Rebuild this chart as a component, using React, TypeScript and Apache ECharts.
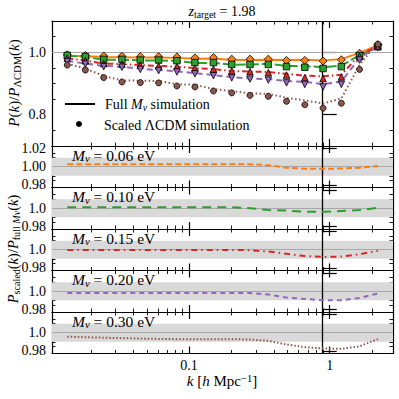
import React, { useEffect, useRef } from 'react';
import * as echarts from 'echarts';

const K = [0.0136, 0.0183, 0.0247, 0.0333, 0.0450, 0.0607, 0.0819, 0.110, 0.149, 0.201, 0.271, 0.366, 0.493, 0.665, 0.897, 1.21, 1.63, 2.20];
const K_NL = 0.9;

const MNU_LABELS = ['0.06', '0.10', '0.15', '0.20', '0.30'];
const COLORS = ['#ff7f0e', '#2ca02c', '#d62728', '#9467bd', '#8c564b'];

const FULL_006 = [0.989, 0.987, 0.985, 0.984, 0.983, 0.983, 0.982, 0.979, 0.980, 0.975, 0.975, 0.976, 0.975, 0.976, 0.974, 0.978, 0.998, 1.023];
const FULL_010 = [0.989, 0.985, 0.976, 0.976, 0.974, 0.974, 0.972, 0.966, 0.966, 0.960, 0.961, 0.963, 0.956, 0.956, 0.952, 0.957, 0.991, 1.017];
const FULL_015 = [0.981, 0.973, 0.964, 0.962, 0.959, 0.956, 0.954, 0.949, 0.946, 0.940, 0.938, 0.937, 0.931, 0.925, 0.923, 0.928, 0.991, 1.019];
const FULL_020 = [0.972, 0.964, 0.956, 0.954, 0.947, 0.943, 0.939, 0.933, 0.927, 0.920, 0.916, 0.914, 0.908, 0.905, 0.898, 0.906, 0.982, 1.018];
const FULL_030 = [0.963, 0.948, 0.924, 0.910, 0.909, 0.908, 0.898, 0.896, 0.882, 0.876, 0.868, 0.867, 0.854, 0.846, 0.836, 0.852, 0.959, 1.033];

const SCALED_006 = [0.992, 0.990, 0.988, 0.987, 0.986, 0.986, 0.985, 0.982, 0.983, 0.978, 0.978, 0.978, 0.974, 0.974, 0.972, 0.976, 0.997, 1.024];
const SCALED_010 = [0.990, 0.986, 0.977, 0.977, 0.975, 0.975, 0.973, 0.967, 0.967, 0.961, 0.961, 0.961, 0.954, 0.952, 0.948, 0.954, 0.989, 1.018];
const SCALED_015 = [0.981, 0.973, 0.964, 0.962, 0.959, 0.956, 0.954, 0.949, 0.946, 0.940, 0.938, 0.935, 0.927, 0.919, 0.916, 0.921, 0.986, 1.018];
const SCALED_020 = [0.970, 0.962, 0.954, 0.952, 0.945, 0.941, 0.937, 0.931, 0.925, 0.918, 0.914, 0.911, 0.902, 0.897, 0.889, 0.897, 0.975, 1.015];
const SCALED_030 = [0.959, 0.943, 0.919, 0.905, 0.903, 0.902, 0.892, 0.889, 0.876, 0.870, 0.862, 0.859, 0.843, 0.832, 0.821, 0.837, 0.945, 1.026];

const RATIO_006 = [1.0027, 1.0027, 1.0027, 1.0027, 1.0027, 1.0027, 1.0027, 1.0027, 1.0027, 1.0027, 1.0027, 1.0018, 0.9990, 0.9978, 0.9978, 0.9980, 0.9990, 1.0008];
const RATIO_010 = [1.0010, 1.0010, 1.0010, 1.0010, 1.0010, 1.0010, 1.0010, 1.0010, 1.0010, 1.0010, 1.0000, 0.9980, 0.9974, 0.9960, 0.9960, 0.9970, 0.9980, 1.0005];
const RATIO_015 = [0.9998, 0.9998, 0.9998, 0.9998, 0.9998, 0.9998, 0.9998, 0.9998, 0.9998, 0.9998, 0.9995, 0.9980, 0.9955, 0.9930, 0.9920, 0.9925, 0.9950, 0.9990];
const RATIO_020 = [0.9980, 0.9980, 0.9980, 0.9980, 0.9980, 0.9980, 0.9980, 0.9980, 0.9980, 0.9980, 0.9980, 0.9965, 0.9930, 0.9915, 0.9900, 0.9900, 0.9926, 0.9975];
const RATIO_030 = [0.9956, 0.9951, 0.9945, 0.9940, 0.9936, 0.9932, 0.9929, 0.9927, 0.9929, 0.9928, 0.9925, 0.9910, 0.9870, 0.9840, 0.9825, 0.9822, 0.9850, 0.9930];

const FULL = [FULL_006, FULL_010, FULL_015, FULL_020, FULL_030];
const SCALED = [SCALED_006, SCALED_010, SCALED_015, SCALED_020, SCALED_030];
const RATIO = [RATIO_006, RATIO_010, RATIO_015, RATIO_020, RATIO_030];

const X_MAJOR = [0.1, 1];
const X_MINOR = [0.02, 0.03, 0.04, 0.05, 0.06, 0.07, 0.08, 0.09, 0.2, 0.3, 0.4, 0.5, 0.6, 0.7, 0.8, 0.9, 2];
const TOP_Y_MAJOR = [0.8, 1.0];
const TOP_Y_MINOR = [0.7, 0.75, 0.85, 0.9, 0.95, 1.05, 1.1];
const LOW_Y_MAJOR = [0.98, 1.0, 1.02];
const LOW_Y_MINOR = [0.985, 0.99, 0.995, 1.005, 1.01, 1.015];
const TOP_Y_LABELS = [0.8, 1.0];
const FIRST_LOW_Y_LABELS = [0.98, 1.0, 1.02];
const LOW_Y_LABELS = [0.98, 1.0];

const FONT = '"Liberation Serif", "DejaVu Serif", serif';
const X_MIN = -1.975;
const X_MAX = 0.45;

const TOP_LINE_DASH: any[] = ['solid', [10, 3], [6, 3, 1.5, 3], [6, 4], [1.5, 2.5]];
const LOW_LINE_DASH: any[] = [[6, 3], [9, 6], [6, 4, 1.5, 4], [5, 4], [1.5, 2]];
const SYMBOLS = ['diamond', 'rect', 'triangle', 'triangle', 'circle'];
const SYMBOL_ROT = [0, 0, 0, 180, 0];
const SYMBOL_SIZE = [8, 6.5, 6.5, 6.5, 6];

const GRID_LEFT = 52;
const GRID_RIGHT = 6;
const TOP_GRID = { top: 21, height: 125 };
const LOW_H = 41.5;

const lg = (v: number) => Math.log10(v);

function rich(size: number) {
  const lh = size + 2;
  const s = size * 0.7;
  return {
    i: { fontStyle: 'italic', fontSize: size, fontFamily: FONT, lineHeight: lh, fill: '#000', color: '#000' },
    r: { fontSize: size, fontFamily: FONT, lineHeight: lh, fill: '#000', color: '#000' },
    sub: { fontSize: s, fontFamily: FONT, lineHeight: s, verticalAlign: 'bottom', fill: '#000', color: '#000' },
    subi: { fontSize: s, fontStyle: 'italic', fontFamily: FONT, lineHeight: s, verticalAlign: 'bottom', fill: '#000', color: '#000' },
    sup: { fontSize: s, fontFamily: FONT, lineHeight: s, verticalAlign: 'top', fill: '#000', color: '#000' },
  };
}

function xAxes(g: number, last: boolean) {
  const base: any = {
    type: 'value', gridIndex: g, min: X_MIN, max: X_MAX,
    splitLine: { show: false },
    axisLine: { show: true, onZero: false, lineStyle: { color: '#000', width: 1.2 } },
  };
  const minorTick = { show: true, inside: true, length: 3.5, customValues: X_MINOR.map(lg), lineStyle: { color: '#000', width: 0.9 } };
  const majorTick = { show: true, inside: true, length: 7, customValues: X_MAJOR.map(lg), lineStyle: { color: '#000', width: 1.2 } };
  return [
    { ...base, position: 'bottom', axisTick: minorTick, axisLabel: { show: false } },
    { ...base, position: 'top', axisTick: minorTick, axisLabel: { show: false } },
    {
      ...base, position: 'bottom', axisLine: { show: false }, axisTick: majorTick,
      axisLabel: {
        show: last, customValues: X_MAJOR.map(lg), margin: 5, fontSize: 14, fontFamily: FONT, color: '#000',
        formatter: (v: number) => String(parseFloat(Math.pow(10, v).toPrecision(3))),
      },
    },
    { ...base, position: 'top', axisLine: { show: false }, axisTick: majorTick, axisLabel: { show: false } },
  ];
}

function yAxes(g: number, min: number, max: number, major: number[], minor: number[], labels: number[], digits: number[]) {
  const base: any = {
    type: 'value', gridIndex: g, min, max,
    splitLine: { show: false },
    axisLine: { show: true, onZero: false, lineStyle: { color: '#000', width: 1.2 } },
  };
  const minorTick = { show: true, inside: true, length: 3.5, customValues: minor, lineStyle: { color: '#000', width: 0.9 } };
  const majorTick = { show: true, inside: true, length: 7, customValues: major, lineStyle: { color: '#000', width: 1.2 } };
  return [
    { ...base, position: 'left', axisTick: minorTick, axisLabel: { show: false } },
    { ...base, position: 'right', axisTick: minorTick, axisLabel: { show: false } },
    {
      ...base, position: 'left', axisLine: { show: false }, axisTick: majorTick,
      axisLabel: {
        show: true, customValues: labels, margin: 6, fontSize: 14, fontFamily: FONT, color: '#000',
        formatter: (v: number) => {
          const idx = labels.findIndex((l) => Math.abs(l - v) < 1e-9);
          return v.toFixed(digits[idx < 0 ? 0 : idx]);
        },
      },
    },
    { ...base, position: 'right', axisLine: { show: false }, axisTick: majorTick, axisLabel: { show: false } },
  ];
}

export default function App() {
  const ref = useRef<HTMLDivElement>(null);
  useEffect(() => {
    if (!ref.current) return;
    const chart = echarts.init(ref.current, null, { renderer: 'svg' });

    const grids: any[] = [{ left: GRID_LEFT, right: GRID_RIGHT, top: TOP_GRID.top, height: TOP_GRID.height }];
    for (let m = 0; m < 5; m++) {
      grids.push({ left: GRID_LEFT, right: GRID_RIGHT, top: TOP_GRID.top + TOP_GRID.height + m * LOW_H, height: LOW_H });
    }

    const xAxis: any[] = [];
    const yAxis: any[] = [];
    for (let g = 0; g < 6; g++) {
      xAxis.push(...xAxes(g, g === 5));
      if (g === 0) {
        yAxis.push(...yAxes(0, 0.7, 1.1, TOP_Y_MAJOR, TOP_Y_MINOR, TOP_Y_LABELS, [1, 1]));
      } else if (g === 1) {
        yAxis.push(...yAxes(1, 0.977, 1.023, LOW_Y_MAJOR, LOW_Y_MINOR, FIRST_LOW_Y_LABELS, [2, 2, 2]));
      } else {
        yAxis.push(...yAxes(g, 0.977, 1.023, LOW_Y_MAJOR, LOW_Y_MINOR, LOW_Y_LABELS, [2, 1]));
      }
    }

    const series: any[] = [];
    const refLines = (g: number, withBand: boolean) => ({
      type: 'line', xAxisIndex: 4 * g, yAxisIndex: 4 * g,
      data: [[lg(K[0]), 1]], symbol: 'none', lineStyle: { opacity: 0 }, silent: true, z: 1,
      markArea: withBand ? {
        silent: true, itemStyle: { color: '#d9d9d9' },
        data: [[{ yAxis: 0.99 }, { yAxis: 1.01 }]],
      } : undefined,
      markLine: {
        silent: true, symbol: 'none', label: { show: false }, z: 1,
        data: [
          { yAxis: 1, lineStyle: { color: '#a8a8a8', width: 1, type: 'solid' } },
          { xAxis: lg(K_NL), lineStyle: { color: '#000', width: 1.3, type: 'solid' } },
        ],
      },
    });

    series.push(refLines(0, false));
    for (let m = 0; m < 5; m++) {
      series.push({
        type: 'line', xAxisIndex: 0, yAxisIndex: 0, z: 3,
        data: K.map((k, i) => [lg(k), FULL[m][i]]), symbol: 'none',
        lineStyle: { color: COLORS[m], width: 2, type: TOP_LINE_DASH[m] },
      });
    }
    for (let m = 0; m < 5; m++) {
      series.push({
        type: 'scatter', xAxisIndex: 0, yAxisIndex: 0, z: 4,
        data: K.map((k, i) => [lg(k), SCALED[m][i]]),
        symbol: SYMBOLS[m], symbolRotate: SYMBOL_ROT[m], symbolSize: SYMBOL_SIZE[m],
        itemStyle: { color: COLORS[m], borderColor: '#000', borderWidth: 0.8, opacity: 1 },
      });
    }
    for (let m = 0; m < 5; m++) {
      const g = m + 1;
      series.push(refLines(g, true));
      series.push({
        type: 'line', xAxisIndex: 4 * g, yAxisIndex: 4 * g, z: 3,
        data: K.map((k, i) => [lg(k), RATIO[m][i]]), symbol: 'none',
        lineStyle: { color: COLORS[m], width: 2, type: LOW_LINE_DASH[m] },
      });
    }

    const graphic: any[] = [
      {
        type: 'text', x: 222, y: 11,
        style: { text: '{i|z}{sub|target}{r| = 1.98}', rich: rich(14), align: 'center', verticalAlign: 'middle', fill: '#000' },
      },
      { type: 'line', shape: { x1: 65, y1: 104, x2: 95, y2: 104 }, style: { stroke: '#000', lineWidth: 2 } },
      { type: 'circle', shape: { cx: 79, cy: 124, r: 3 }, style: { fill: '#000' } },
      {
        type: 'text', x: 105, y: 104,
        style: { text: '{r|Full }{i|M}{subi|ν}{r| simulation}', rich: rich(14), align: 'left', verticalAlign: 'middle', fill: '#000' },
      },
      {
        type: 'text', x: 104, y: 125,
        style: { text: '{r|Scaled ΛCDM simulation}', rich: rich(14), align: 'left', verticalAlign: 'middle', fill: '#000' },
      },
      {
        type: 'text', x: 14, y: 83, rotation: Math.PI / 2,
        style: { text: '{i|P}{r|(}{i|k}{r|)/}{i|P}{sub|ΛCDM}{r|(}{i|k}{r|)}', rich: rich(15), align: 'center', verticalAlign: 'middle', fill: '#000' },
      },
      {
        type: 'text', x: 13, y: 249, rotation: Math.PI / 2,
        style: { text: '{i|P}{sub|scaled}{r|(}{i|k}{r|)/}{i|P}{sub|full }{subi|M}{subi|ν}{r|(}{i|k}{r|)}', rich: rich(14.5), align: 'center', verticalAlign: 'middle', fill: '#000' },
      },
      {
        type: 'text', x: 222, y: 381,
        style: { text: '{i|k}{r| [}{i|h}{r| Mpc}{sup|−1}{r|]}', rich: rich(15), align: 'center', verticalAlign: 'middle', fill: '#000' },
      },
    ];
    for (let m = 0; m < 5; m++) {
      const top = TOP_GRID.top + TOP_GRID.height + m * LOW_H;
      graphic.push({
        type: 'text', x: 72, y: top + 9, z: 10,
        style: { text: `{i|M}{subi|ν}{r| = ${MNU_LABELS[m]} eV}`, rich: rich(15.5), align: 'left', verticalAlign: 'middle', fill: '#000' },
      });
    }

    chart.setOption({
      animation: false,
      backgroundColor: '#fff',
      grid: grids,
      xAxis,
      yAxis,
      series,
      graphic,
    });
    return () => chart.dispose();
  }, []);
  return <div ref={ref} style={{ position: 'fixed', left: 0, top: 0, width: 399, height: 399, background: '#fff' }} />;
}
